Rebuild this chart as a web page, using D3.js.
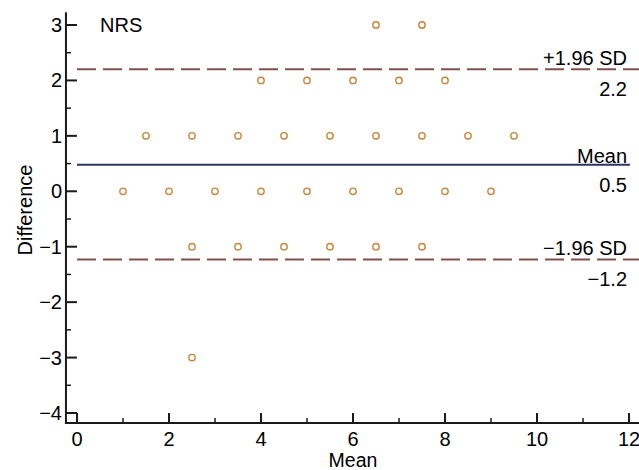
<!DOCTYPE html>
<html>
<head>
<meta charset="utf-8">
<script src="https://cdn.jsdelivr.net/npm/d3@7"></script>
<style>
html,body{margin:0;padding:0;background:#fff;}
svg{display:block;font-family:"Liberation Sans",Arial,sans-serif;}
</style>
</head>
<body>
<svg id="chart" width="639" height="470"></svg>
<script>
// Data
const pointMeans = [6.5, 7.5, 4, 5, 6, 7, 8, 1.5, 2.5, 3.5, 4.5, 5.5, 6.5, 7.5, 8.5, 9.5, 1, 2, 3, 4, 5, 6, 7, 8, 9, 2.5, 3.5, 4.5, 5.5, 6.5, 7.5, 2.5];
const pointDiffs = [3, 3, 2, 2, 2, 2, 2, 1, 1, 1, 1, 1, 1, 1, 1, 1, 0, 0, 0, 0, 0, 0, 0, 0, 0, -1, -1, -1, -1, -1, -1, -3];
const meanDiff = 0.48;
const upperLoA = 2.2;
const lowerLoA = -1.23;
const lineLabels = ["+1.96 SD", "Mean", "\u22121.96 SD"];
const lineValueLabels = ["2.2", "0.5", "\u22121.2"];
const xTicks = [0, 2, 4, 6, 8, 10, 12];
const xMinorTicks = [1, 3, 5, 7, 9, 11];
const yTicks = [-4, -3, -2, -1, 0, 1, 2, 3];
const yMinorTicks = [-3.5, -2.5, -1.5, -0.5, 0.5, 1.5, 2.5];
const title = "NRS";
const xTitle = "Mean";
const yTitle = "Difference";

const svg = d3.select("#chart");
const x = d3.scaleLinear().domain([0, 12]).range([77, 629]);
const y = d3.scaleLinear().domain([-4, 3]).range([413, 25]);
const fmt = v => v < 0 ? "\u2212" + Math.abs(v) : String(v);
const FS = 20;
const TXT = "#000";

// Reference lines
const lines = [
  {v: upperLoA, color: "#80504e", dash: "19,7", lab: lineLabels[0], val: lineValueLabels[0], off: -4},
  {v: meanDiff, color: "#2d3461", dash: null, lab: lineLabels[1], val: lineValueLabels[1], off: -2},
  {v: lowerLoA, color: "#80504e", dash: "19,7", lab: lineLabels[2], val: lineValueLabels[2], off: -4}
];
lines.forEach(l => {
  const ln = svg.append("line")
    .attr("x1", x(0)).attr("x2", l.dash ? 639 : x(12.02))
    .attr("y1", y(l.v)).attr("y2", y(l.v))
    .attr("stroke", l.color).attr("stroke-width", 2);
  if (l.dash) ln.attr("stroke-dasharray", l.dash);
  svg.append("text").attr("x", 627).attr("y", y(l.v) + l.off)
    .attr("text-anchor", "end").attr("font-size", FS).attr("fill", TXT).text(l.lab);
  svg.append("text").attr("x", 627).attr("y", y(l.v) + 27)
    .attr("text-anchor", "end").attr("font-size", FS).attr("fill", TXT).text(l.val);
});

// Points
svg.append("g").selectAll("circle")
  .data(pointMeans.map((m, i) => ({m, d: pointDiffs[i]})))
  .join("circle")
  .attr("cx", p => x(p.m)).attr("cy", p => y(p.d)).attr("r", 3.2)
  .attr("fill", "#fff").attr("stroke", "#c8863a").attr("stroke-width", 1.4);

// Axes
const axisColor = "#1a1a1a";
const xAxisY = y(-4.18);
const yAxisX = x(-0.24);
svg.append("line").attr("x1", yAxisX).attr("x2", yAxisX)
  .attr("y1", y(3.23)).attr("y2", xAxisY + 1).attr("stroke", axisColor).attr("stroke-width", 2);
svg.append("line").attr("x1", yAxisX - 1).attr("x2", 639)
  .attr("y1", xAxisY).attr("y2", xAxisY).attr("stroke", axisColor).attr("stroke-width", 2);

// x ticks
svg.append("g").selectAll("line").data(xTicks).join("line")
  .attr("x1", d => x(d)).attr("x2", d => x(d))
  .attr("y1", xAxisY).attr("y2", xAxisY - 10)
  .attr("stroke", axisColor).attr("stroke-width", 2);
svg.append("g").selectAll("line").data(xMinorTicks).join("line")
  .attr("x1", d => x(d)).attr("x2", d => x(d))
  .attr("y1", xAxisY).attr("y2", xAxisY - 5)
  .attr("stroke", axisColor).attr("stroke-width", 1.5);
svg.append("g").selectAll("text").data(xTicks).join("text")
  .attr("x", d => x(d)).attr("y", 446).attr("text-anchor", "middle")
  .attr("font-size", FS).attr("fill", TXT).text(d => fmt(d));

// y ticks
svg.append("g").selectAll("line").data(yTicks).join("line")
  .attr("x1", yAxisX).attr("x2", yAxisX + 11)
  .attr("y1", d => y(d)).attr("y2", d => y(d))
  .attr("stroke", axisColor).attr("stroke-width", 2);
svg.append("g").selectAll("line").data(yMinorTicks).join("line")
  .attr("x1", yAxisX).attr("x2", yAxisX + 5)
  .attr("y1", d => y(d)).attr("y2", d => y(d))
  .attr("stroke", axisColor).attr("stroke-width", 1.5);
svg.append("g").selectAll("text").data(yTicks).join("text")
  .attr("x", 62).attr("y", d => y(d) + 7).attr("text-anchor", "end")
  .attr("font-size", FS).attr("fill", TXT).text(d => fmt(d));

// Titles
svg.append("text").attr("x", 100).attr("y", 32).attr("font-size", FS).attr("fill", TXT).text(title);
svg.append("text").attr("x", x(6)).attr("y", 467).attr("text-anchor", "middle")
  .attr("font-size", 19.5).attr("fill", TXT).text(xTitle);
svg.append("text").attr("transform", `translate(32,210) rotate(-90)`)
  .attr("text-anchor", "middle").attr("font-size", FS).attr("fill", TXT).text(yTitle);
</script>
</body>
</html>
